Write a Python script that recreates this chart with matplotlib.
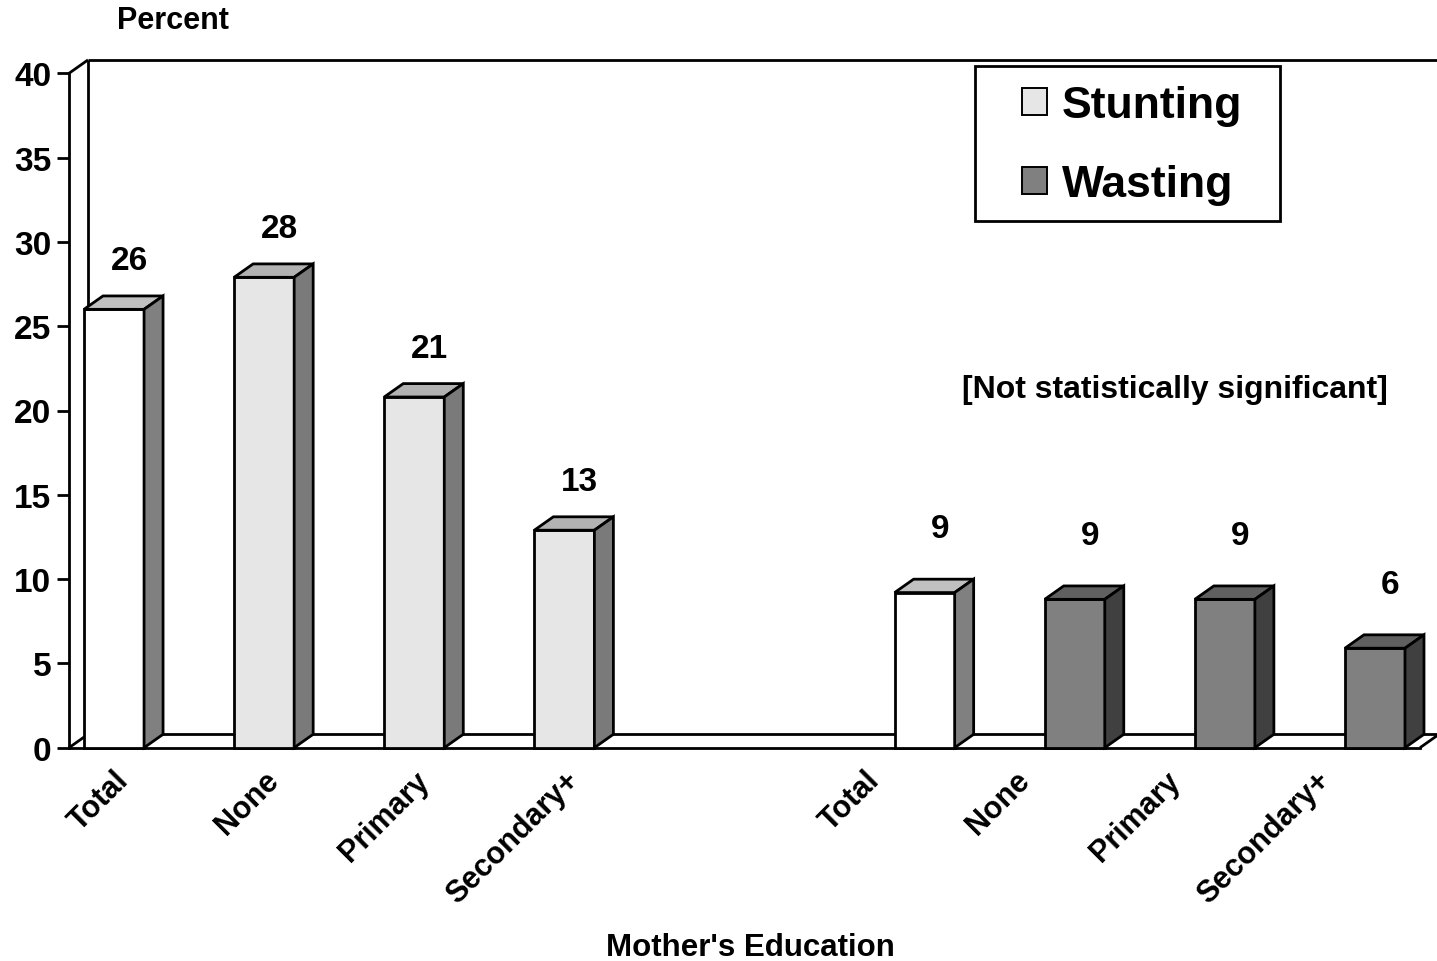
import matplotlib
matplotlib.use("Agg")
import matplotlib.pyplot as plt
from matplotlib.patches import Polygon, Patch, Rectangle
from matplotlib.transforms import ScaledTranslation
import numpy as np

plt.rcParams['font.family'] = ['Liberation Sans', 'DejaVu Sans']
plt.rcParams['font.weight'] = 'bold'

# ---------------- data ----------------
categories = ["Total", "None", "Primary", "Secondary+"]
series_names = ["Stunting", "Wasting"]
stunting = [26.0, 27.9, 20.8, 12.9]
wasting = [9.2, 8.8, 8.8, 5.9]
y_ticks = [0, 5, 10, 15, 20, 25, 30, 35, 40]
y_title = "Percent"
x_title = "Mother's Education"
note = "[Not statistically significant]"

# ---------------- styles ----------------
W, H, DPI = 1437, 962, 100
LW = 2.0
total_style = dict(front="#ffffff", top="#c0c0c0", side="#808080")
stunt_style = dict(front="#e6e6e6", top="#b2b2b2", side="#7a7a7a")
waste_style = dict(front="#808080", top="#606060", side="#404040")

fig = plt.figure(figsize=(W / DPI, H / DPI), dpi=DPI)
ax = fig.add_axes([69 / W, (H - 748.7) / H, (1420 - 69) / W, (748.7 - 74.3) / H])
n_slots = 2 * len(categories) + 1
ax.set_xlim(-0.5, n_slots - 0.5)
ax.set_ylim(0, 40)

# depth of the pseudo-3D box, expressed in data units from a pixel offset
inv = ax.transData.inverted()
p0 = inv.transform((0, 0))
p1 = inv.transform((19, 13.4))
DX, DY = p1[0] - p0[0], p1[1] - p0[1]

xmin, xmax = ax.get_xlim()
ymax = ax.get_ylim()[1]
line_kw = dict(color="black", lw=LW, clip_on=False, solid_capstyle="butt", zorder=1)
# back wall and floor
ax.plot([xmin + DX, xmin + DX], [DY, ymax + DY], **line_kw)
ax.plot([xmin + DX, xmax + DX + 0.2], [ymax + DY, ymax + DY], **line_kw)
ax.plot([xmin, xmin + DX], [ymax, ymax + DY], **line_kw)
ax.plot([xmin, xmin + DX], [0, DY], **line_kw)
ax.plot([xmin + DX, xmax + DX], [DY, DY], **line_kw)
ax.plot([xmax, xmax + DX], [0, DY], **line_kw)


def bar3d(xl, w, h, st):
    xr = xl + w
    kw = dict(edgecolor="black", lw=LW, joinstyle="miter", clip_on=False, zorder=3)
    ax.add_patch(Polygon([(xl, 0), (xr, 0), (xr, h), (xl, h)], closed=True, facecolor=st["front"], **kw))
    ax.add_patch(Polygon([(xl, h), (xr, h), (xr + DX, h + DY), (xl + DX, h + DY)], closed=True,
                         facecolor=st["top"], **kw))
    ax.add_patch(Polygon([(xr, 0), (xr + DX, DY), (xr + DX, h + DY), (xr, h)], closed=True,
                         facecolor=st["side"], **kw))


BW = 0.4
cat_pos = np.arange(n_slots)
g1 = cat_pos[:len(categories)]
g2 = cat_pos[len(categories) + 1:]

for i, (c, v) in enumerate(zip(g1, stunting)):
    st = total_style if i == 0 else stunt_style
    bar3d(c - BW, BW, v, st)
    ax.text(c - BW / 2 + 0.1, v + 2.4, f"{v:.0f}", ha="center", va="baseline",
            fontsize=24, fontweight="bold", zorder=5)

for i, (c, v) in enumerate(zip(g2, wasting)):
    st = total_style if i == 0 else waste_style
    bar3d(c, BW, v, st)
    ax.text(c + BW / 2 + 0.1, v + 3.3, f"{v:.0f}", ha="center", va="baseline",
            fontsize=24, fontweight="bold", zorder=5)

# axes
for s in ["top", "right"]:
    ax.spines[s].set_visible(False)
ax.spines["left"].set_linewidth(LW)
ax.spines["bottom"].set_linewidth(LW)
ax.spines["left"].set_zorder(1)
ax.spines["bottom"].set_zorder(1)
ax.patch.set_alpha(0)

ax.set_yticks(y_ticks)
ax.set_yticklabels([str(t) for t in y_ticks], fontsize=24, fontweight="bold")
ax.tick_params(axis="y", length=8.6, width=LW, pad=4)

ax.set_xticks(cat_pos)
ax.set_xticklabels(categories + [""] + categories, rotation=45, ha="right", va="top",
                   fontsize=22, fontweight="bold")
ax.tick_params(axis="x", length=0, pad=12.5)
shift = ScaledTranslation(-9 / DPI, 0, fig.dpi_scale_trans)
for lab in ax.get_xticklabels():
    lab.set_transform(lab.get_transform() + shift)

# titles / notes
fig.text(173 / W, 1 - 21 / H, y_title, ha="center", va="center", fontsize=22, fontweight="bold")
fig.text(750 / W, 1 - 948 / H, x_title, ha="center", va="center", fontsize=22.5, fontweight="bold")
fig.text(1175 / W, 1 - 390 / H, note, ha="center", va="center", fontsize=23, fontweight="bold")

# legend
fig.patches.append(Rectangle((975 / W, 1 - 222 / H), (1280 - 975) / W, (222 - 67) / H,
                             transform=fig.transFigure, facecolor="white", edgecolor="black",
                             lw=LW, zorder=4))
handles = [Patch(facecolor=stunt_style["front"], edgecolor="black", lw=1.4),
           Patch(facecolor=waste_style["front"], edgecolor="black", lw=1.4)]
leg = fig.legend(handles, series_names, loc="upper left",
                 bbox_to_anchor=(1022 / W, 1 - 86 / H), bbox_transform=fig.transFigure,
                 frameon=False, handlelength=0.56, handleheight=0.56,
                 handletextpad=0.33, labelspacing=0.85, borderpad=0, borderaxespad=0,
                 prop=dict(weight="bold", size=32))
leg.set_zorder(6)

fig.savefig("out.png", dpi=DPI)
